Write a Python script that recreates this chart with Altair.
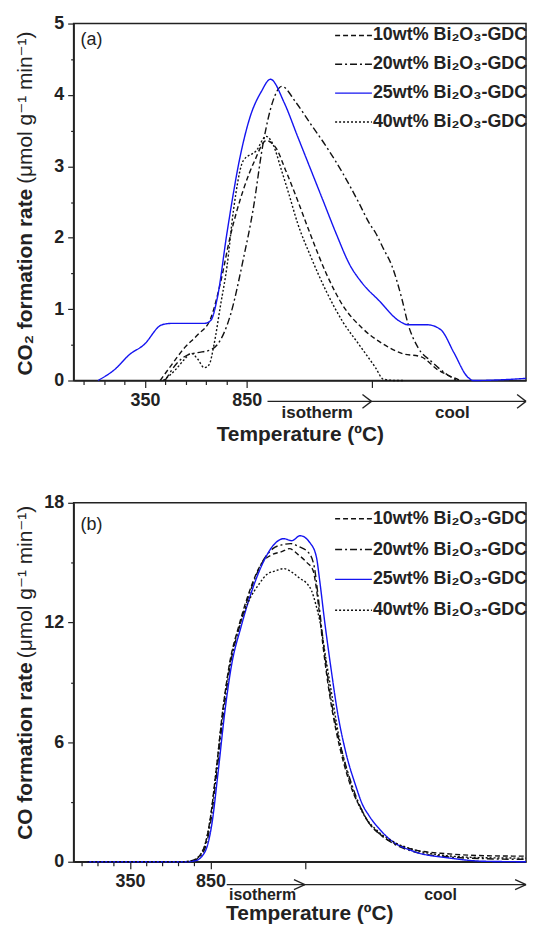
import altair as alt
import pandas as pd

LABELS = ["10wt% Bi₂O₃-GDC", "20wt% Bi₂O₃-GDC", "25wt% Bi₂O₃-GDC", "40wt% Bi₂O₃-GDC"]
COLORS = ["#111111", "#111111", "#1414f0", "#111111"]
DASHES = [[5, 3], [7, 3, 2, 3], [1, 0], [2, 2]]
FONT = "Liberation Sans, Arial, DejaVu Sans"
INK = "#222222"

# ---------------- panel (a): CO2 formation rate ----------------
# x: heating temperature (degC) continuing into isotherm / cooling stage on the same axis
a10_x = [425, 481, 545, 609, 673, 721, 769, 833, 889, 945, 995, 1040, 1096, 1162, 1240, 1322, 1418, 1514, 1611, 1707, 1788, 1865, 1900]
a10_y = [0, 0.22, 0.46, 0.64, 0.87, 1.37, 2.02, 2.67, 3.08, 3.36, 3.25, 2.95, 2.55, 2.05, 1.5, 1.05, 0.73, 0.52, 0.38, 0.33, 0.15, 0.04, 0]
a20_x = [449, 513, 561, 609, 673, 705, 769, 833, 881, 929, 978, 1022, 1090, 1162, 1242, 1322, 1402, 1452, 1482, 1522, 1562, 1611, 1643, 1691, 1755, 1835, 1883]
a20_y = [0, 0.26, 0.36, 0.39, 0.43, 0.5, 0.91, 1.7, 2.39, 3.3, 3.91, 4.12, 3.9, 3.6, 3.27, 2.9, 2.48, 2.2, 2.07, 1.84, 1.61, 1.15, 0.78, 0.46, 0.27, 0.08, 0]
a25_x = [120, 208, 273, 345, 433, 481, 641, 673, 705, 753, 817, 865, 922, 966, 1034, 1098, 1162, 1226, 1290, 1354, 1418, 1499, 1595, 1643, 1739, 1803, 1867, 1931, 1962, 2100, 2221]
a25_y = [0, 0.17, 0.36, 0.5, 0.78, 0.8, 0.8, 0.84, 1.15, 2.07, 3.13, 3.68, 4.05, 4.22, 3.89, 3.43, 2.97, 2.51, 2.05, 1.63, 1.36, 1.12, 0.84, 0.78, 0.78, 0.71, 0.39, 0.06, 0, 0.01, 0.03]
a40_x = [440, 500, 545, 577, 609, 641, 665, 689, 721, 753, 785, 833, 897, 945, 980, 1020, 1058, 1100, 1162, 1242, 1322, 1402, 1482, 1520, 1580, 1620]
a40_y = [0, 0.15, 0.3, 0.38, 0.3, 0.18, 0.22, 0.5, 1.05, 1.6, 2.39, 3.08, 3.22, 3.42, 3.3, 2.95, 2.6, 2.2, 1.75, 1.24, 0.82, 0.5, 0.18, 0.02, 0, 0]

# ---------------- panel (b): CO formation rate ----------------
b10_x = [85, 683, 744, 805, 846, 886, 927, 968, 1029, 1090, 1171, 1232, 1293, 1340, 1395, 1450, 1488, 1505, 1525, 1550, 1590, 1630, 1680, 1740, 1790, 1830, 1900, 2000, 2116, 2321, 2565, 2811]
b10_y = [0, 0, 0.08, 0.6, 2.0, 4.6, 7.6, 9.9, 11.9, 13.5, 15.0, 15.4, 15.55, 15.7, 15.4, 15.0, 14.6, 13.9, 12.6, 10.8, 8.4, 6.6, 4.9, 3.4, 2.6, 2.0, 1.4, 0.9, 0.6, 0.4, 0.3, 0.28]
b20_x = [85, 688, 750, 810, 850, 890, 932, 972, 1035, 1095, 1177, 1238, 1298, 1350, 1400, 1460, 1495, 1515, 1540, 1580, 1620, 1675, 1740, 1790, 1830, 1900, 2000, 2116, 2321, 2565, 2811]
b20_y = [0, 0, 0.08, 0.55, 1.9, 4.5, 7.5, 9.8, 11.9, 13.5, 15.1, 15.7, 15.9, 15.95, 15.8, 15.5, 14.8, 13.6, 11.8, 9.2, 7.2, 5.3, 3.6, 2.6, 2.0, 1.4, 0.85, 0.5, 0.25, 0.15, 0.12]
b25_x = [85, 695, 756, 817, 858, 898, 939, 980, 1041, 1102, 1183, 1244, 1305, 1356, 1407, 1468, 1508, 1529, 1559, 1600, 1640, 1691, 1752, 1793, 1833, 1915, 1955, 2116, 2321, 2565, 2811]
b25_y = [0, 0, 0.05, 0.51, 1.84, 4.5, 7.48, 9.8, 11.8, 13.45, 15.1, 15.9, 16.2, 16.1, 16.35, 16.0, 15.3, 14.1, 12.1, 9.65, 7.48, 5.49, 3.83, 2.9, 2.34, 1.51, 1.19, 0.51, 0.2, 0.02, 0]
b40_x = [85, 683, 744, 805, 846, 886, 927, 968, 1029, 1090, 1150, 1200, 1260, 1305, 1360, 1407, 1450, 1478, 1505, 1529, 1569, 1610, 1650, 1711, 1793, 1895, 2000, 2116, 2321, 2565, 2811]
b40_y = [0, 0, 0.08, 0.6, 2.0, 4.6, 7.6, 9.8, 11.8, 13.1, 13.9, 14.4, 14.6, 14.7, 14.5, 14.2, 13.95, 13.6, 12.9, 12.1, 10.1, 8.1, 6.2, 4.2, 2.5, 1.5, 0.95, 0.6, 0.3, 0.2, 0.18]

HEAT_TICKS = [50, 150, 250, 350, 450, 550, 650, 750, 850]


def long_df(xs, ys):
    rows = []
    for lab, xx, yy in zip(LABELS, xs, ys):
        for a, b in zip(xx, yy):
            rows.append({"series": lab, "x": a, "y": b})
    return pd.DataFrame(rows)


ONE = pd.DataFrame({"k": [0]})


def panel(df, tag, ytitle_bold, xmax, ymax, ystep_minor, ystep_major, iso_end, W, H, p):
    yvals = [round(i * ystep_minor, 3) for i in range(int(round(ymax / ystep_minor)) + 1)]
    ymaj = f"abs(datum.value / {ystep_major} - round(datum.value / {ystep_major})) < 0.001"
    y_axis = alt.Axis(
        values=yvals, title=None, grid=False,
        labelExpr=f"{ymaj} ? format(datum.value, 'd') : ''",
        tickSize={"condition": {"test": ymaj, "value": 6}, "value": 3},
        labelPadding=4,
    )
    xmaj = "datum.value == 350 || datum.value == 850 || datum.value > 900"
    x_axis = alt.Axis(
        values=HEAT_TICKS + [iso_end], grid=False,
        labelExpr="(datum.value == 350 || datum.value == 850) ? format(datum.value, 'd') : ''",
        tickSize={"condition": {"test": xmaj, "value": 7}, "value": 4},
        labelPadding=p["xlabpad"],
        title="Temperature (ºC)", titleFontSize=21, titleFontWeight="bold",
        titleX=p["titleX"], titleY=p["titleY"], titleAlign="center", titleBaseline="middle",
    )
    xs = alt.Scale(domain=[0, xmax], nice=False, zero=False)
    ys = alt.Scale(domain=[0, ymax], nice=False)

    lines = alt.Chart(df).mark_line(interpolate="monotone", strokeWidth=1.4).encode(
        x=alt.X("x:Q", scale=xs, axis=x_axis),
        y=alt.Y("y:Q", scale=ys, axis=y_axis),
        color=alt.Color("series:N", scale=alt.Scale(domain=LABELS, range=COLORS), legend=None),
        strokeDash=alt.StrokeDash("series:N", scale=alt.Scale(domain=LABELS, range=DASHES), legend=None),
    )

    layers = [lines]
    # panel tag
    layers.append(alt.Chart(ONE).mark_text(align="left", baseline="middle", fontSize=18, color=INK).encode(
        x=alt.value(7), y=alt.value(p["tagY"]), text=alt.value(tag)))
    # y-axis title (bold part + regular units part)
    layers.append(alt.Chart(ONE).mark_text(angle=270, align="left", baseline="middle", fontSize=21,
                                           fontWeight="bold", color=INK).encode(
        x=alt.value(-48), y=alt.value(p["ytBottom"]), text=alt.value(ytitle_bold)))
    layers.append(alt.Chart(ONE).mark_text(angle=270, align="right", baseline="middle", fontSize=21,
                                           color=INK).encode(
        x=alt.value(-48), y=alt.value(p["ytTop"]), text=alt.value("(μmol g⁻¹ min⁻¹)")))
    # legend (drawn inside the frame, top right)
    for i, lab in enumerate(LABELS):
        ry = p["legY"][i]
        layers.append(alt.Chart(ONE).mark_rule(color=COLORS[i], strokeDash=DASHES[i], strokeWidth=1.4).encode(
            x=alt.value(263), x2=alt.value(300), y=alt.value(ry)))
        layers.append(alt.Chart(ONE).mark_text(align="left", baseline="middle", fontSize=18,
                                               fontWeight="bold", color=INK).encode(
            x=alt.value(301), y=alt.value(ry), text=alt.value(lab)))
    # stage arrow below the axis
    ay = p["arrowY"]
    layers.append(alt.Chart(ONE).mark_rule(color=INK, strokeWidth=1.3).encode(
        x=alt.value(p["arrowX0"]), x2=alt.value(W), y=alt.value(ay)))
    tips = pd.DataFrame({"x": [iso_end, xmax]})
    cw, ch = p["chev"]
    for sgn in (-1, 1):
        layers.append(alt.Chart(tips).mark_rule(color=INK, strokeWidth=1.3, xOffset=-cw).encode(
            x=alt.X("x:Q", scale=xs), x2="x:Q", y=alt.value(ay + sgn * ch), y2=alt.value(ay)))
    for txt, tx in (("isotherm", p["isoX"]), ("cool", p["coolX"])):
        layers.append(alt.Chart(ONE).mark_text(align="center", baseline="middle", fontSize=p["stageFs"],
                                               fontWeight="bold", color=INK).encode(
            x=alt.value(tx), y=alt.value(p["stageY"]), text=alt.value(txt)))
    return alt.layer(*layers).properties(width=W, height=H)


WA, HA = 455, 359
WB, HB = 455, 361

pa = panel(
    long_df([a10_x, a20_x, a25_x, a40_x], [a10_y, a20_y, a25_y, a40_y]),
    "(a)", "CO₂ formation rate", 2221, 5, 0.5, 1, 1462, WA, HA,
    dict(xlabpad=4, titleX=WA / 2, titleY=54, tagY=17, ytBottom=HA - 5, ytTop=8,
         legY=[12, 41, 70, 99], arrowY=HA + 21, arrowX0=195, chev=(9, 7),
         isoX=245, coolX=381, stageY=HA + 33, stageFs=17),
)
pb = panel(
    long_df([b10_x, b20_x, b25_x, b40_x], [b10_y, b20_y, b25_y, b40_y]),
    "(b)", "CO formation rate", 2811, 18, 3, 6, 1437, WB, HB,
    dict(xlabpad=4, titleX=237, titleY=52, tagY=22, ytBottom=HB - 22, ytTop=3,
         legY=[16, 47, 77, 108], arrowY=HB + 23, arrowX0=154, chev=(11, 5),
         isoX=190, coolX=369, stageY=HB + 33, stageFs=16),
)

chart = alt.vconcat(pa, pb, spacing=48).properties(
    padding={"left": 6, "top": 3, "right": 0, "bottom": 0}
).configure_view(
    stroke=INK, strokeWidth=1.5
).configure_axis(
    labelFont=FONT, titleFont=FONT, labelFontSize=18, labelFontWeight="bold",
    labelColor=INK, titleColor=INK, domainColor=INK, domainWidth=1.5,
    tickColor=INK, tickWidth=1.2,
).configure_text(font=FONT)

chart.save("out.html", embed_options={"renderer": "svg", "actions": False})
